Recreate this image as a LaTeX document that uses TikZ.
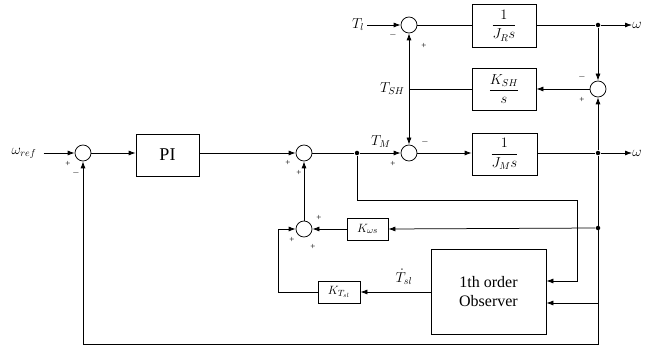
\documentclass[tikz,border=0pt]{standalone}
\usepackage{fontspec}
\setmainfont{Liberation Serif}
\usetikzlibrary{arrows.meta}
\begin{document}
\begin{tikzpicture}[x=1pt,y=-1pt,
  >={Latex[length=7pt,width=5pt]},
  line width=0.75pt,
  sumc/.style={circle,draw,minimum size=16pt,inner sep=0pt},
  blk/.style={draw,rectangle,inner sep=0pt},
  jn/.style={circle,fill,inner sep=0pt,minimum size=4.5pt},
  sg/.style={font=\fontsize{9}{9}\selectfont,inner sep=0pt},
  lbl/.style={font=\fontsize{14}{14}\selectfont,inner sep=0pt},
  frc/.style={font=\fontsize{14}{14}\selectfont}]
\useasboundingbox (0,0) rectangle (656,347);
% nodes
\node[lbl] (wref) at (24,153) {$\omega_{ref}$};
\node[sumc] (s1) at (83,153) {};
\node[blk,minimum width=63pt,minimum height=42pt,font=\fontsize{18}{18}\selectfont] (pi) at (167.5,155) {PI};
\node[sumc] (s2) at (304,153) {};
\node[jn] (d1) at (357,153) {};
\node[sumc] (s3) at (409,153) {};
\node[blk,frc,minimum width=65pt,minimum height=42pt] (jm) at (504.5,154) {$\displaystyle\frac{1}{J_M s}$};
\node[jn] (d2) at (598,153) {};
\node[lbl,anchor=west] (w2) at (632,153) {$\omega$};
\node[lbl] (tl) at (358,25) {$T_l$};
\node[sumc] (st) at (409,25) {};
\node[blk,frc,minimum width=64pt,minimum height=43pt] (jr) at (504,25.5) {$\displaystyle\frac{1}{J_R s}$};
\node[jn] (d3) at (598,25) {};
\node[lbl,anchor=west] (w1) at (632,25) {$\omega$};
\node[sumc] (s4) at (598,89) {};
\node[blk,frc,minimum width=64pt,minimum height=42pt] (ksh) at (504,89) {$\displaystyle\frac{K_{SH}}{s}$};
\coordinate (jsh) at (409,89);
\node[lbl,anchor=east] (tsh) at (405,89) {$T_{SH}$};
\node[lbl] (tm) at (381,142) {$T_M$};
\node[jn] (d4) at (598,228) {};
\node[blk,minimum width=41pt,minimum height=22pt,font=\fontsize{13}{13}\selectfont] (kw) at (367.5,229) {$K_{\omega s}$};
\node[sumc] (s5) at (304,229) {};
\node[blk,minimum width=42pt,minimum height=22pt,font=\fontsize{13}{13}\selectfont] (kt) at (339,292) {$K_{T_{sl}}$};
\node[blk,minimum width=115pt,minimum height=85pt,align=center,font=\fontsize{16}{19}\selectfont] (obs) at (488.5,291.5) {1th order\\Observer};
\node[lbl] (tsl) at (404,277) {$\dot{T}_{sl}$};
\coordinate (c1) at (577,200);
\coordinate (oin1) at ([yshift=10.5pt]obs.east);
\coordinate (oin2) at ([yshift=-11.5pt]obs.east);
\coordinate (br) at (598,344);
\coordinate (bl) at (83,344);
% connectors
\draw[->] ([xshift=7pt]wref.east) -- (s1.west);
\draw[->] (s1.east) -- (s1.east -| pi.west);
\draw[->] (pi.east |- s2) -- (s2.west);
\draw (s2.east) -- (d1);
\draw[->] (d1) -- (s3.west);
\draw[->] (s3.east) -- (s3.east -| jm.west);
\draw (jm.east |- d2) -- (d2);
\draw[->] (d2) -- (w2.west);
\draw[->] ([xshift=3pt]tl.east) -- (st.west);
\draw (st.east) -- (st.east -| jr.west);
\draw (jr.east |- d3) -- (d3);
\draw[->] (d3) -- (w1.west);
\draw[->] (d3) -- (s4.north);
\draw[->] (d2) -- (s4.south);
\draw[->] (s4.west) -- (ksh.east |- s4);
\draw (ksh.west) -- (jsh);
\draw[->] (jsh) -- (st.south);
\draw[->] (jsh) -- (s3.north);
\draw[->] (d2) -- (br) -- (bl) -- (s1.south);
\draw[->] (d4) -- (kw.east);
\draw[->] (kw.west) -- (s5.east);
\draw[->] (s5.north) -- (s2.south);
\draw[->] (obs.west |- kt) -- (kt.east);
\draw[->] (kt.west) -- ++(-39,0) |- (s5.west);
\draw[->] (d1) |- (c1) |- (oin1);
\draw[->] (br |- oin2) -- (oin2);
% signs
\node[sg] at (68,164) {+};
\node[sg] at (76,173) {$-$};
\node[sg] at (288,163) {+};
\node[sg] at (299,173) {+};
\node[sg] at (425,142) {$-$};
\node[sg] at (393,164) {+};
\node[sg] at (393,35) {$-$};
\node[sg] at (424,46) {+};
\node[sg] at (582,77) {$-$};
\node[sg] at (582,100) {+};
\node[sg] at (319,218) {+};
\node[sg] at (292,240) {+};
\node[sg] at (313,247) {+};
\end{tikzpicture}
\end{document}
